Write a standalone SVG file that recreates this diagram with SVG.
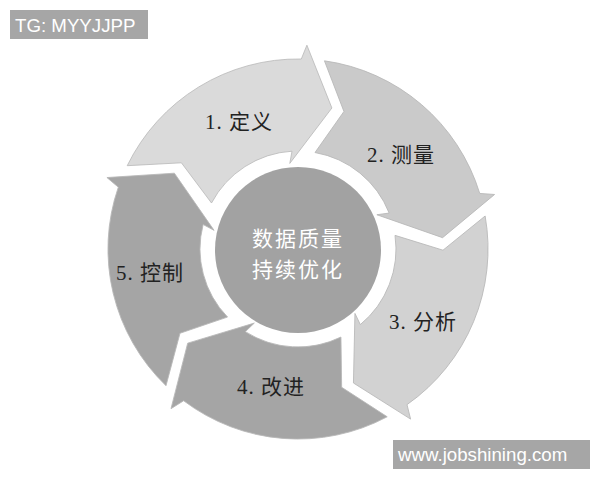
<svg xmlns="http://www.w3.org/2000/svg" width="600" height="480" viewBox="0 0 600 480">
<defs>
<style>
.seg{stroke:#b8b8b8;stroke-width:0.8;stroke-linejoin:miter}
.lbl{font-family:"Liberation Serif","Noto Sans CJK SC",serif;font-size:21px;fill:#222;text-anchor:middle;letter-spacing:1px}
.ctr{font-family:"Noto Sans CJK SC","Noto Sans",sans-serif;font-size:21px;fill:#fff;text-anchor:middle;letter-spacing:2px}
.wm{font-family:"Liberation Sans",Arial,sans-serif;font-size:18.7px;fill:#fff}
</style>
<path id="arrowSeg" d="M -170.8 -83.3 A 190 190 0 0 1 3.3 -190 L 8.9 -203.8 L 33.9 -141 L -8.2 -85.6 L -6 -97.8 A 98 98 0 0 0 -86.5 -46 L -116.6 -86.2 Z"/>
</defs>
<rect width="600" height="480" fill="#fff"/>
<g id="connectors"/>
<g id="step1">
<use href="#arrowSeg" class="seg" fill="#dadada" stroke="#9a9a9a" transform="translate(298,249) rotate(0)"/>
<text class="lbl" x="239" y="129">1. 定义</text>
</g>
<g id="step2">
<use href="#arrowSeg" class="seg" fill="#cacaca" transform="translate(298,249) rotate(72)"/>
<text class="lbl" x="401" y="162">2. 测量</text>
</g>
<g id="step3">
<use href="#arrowSeg" class="seg" fill="#d2d2d2" transform="translate(298,249) rotate(144)"/>
<text class="lbl" x="423" y="329">3. 分析</text>
</g>
<g id="step4">
<use href="#arrowSeg" class="seg" fill="#a5a5a5" transform="translate(298,249) rotate(216)"/>
<text class="lbl" x="271" y="394">4. 改进</text>
</g>
<g id="step5">
<use href="#arrowSeg" class="seg" fill="#a5a5a5" transform="translate(298,249) rotate(288)"/>
<text class="lbl" x="150" y="280">5. 控制</text>
</g>
<g id="center">
<circle cx="298" cy="250" r="83" fill="#a2a2a2"/>
<text class="ctr" x="298" y="246">数据质量</text>
<text class="ctr" x="298" y="277">持续优化</text>
</g>
<g id="watermark-top">
<rect x="10" y="10" width="138" height="29" fill="#a6a6a6"/>
<text class="wm" x="15" y="32">TG: MYYJJPP</text>
</g>
<g id="watermark-bottom">
<rect x="393" y="440" width="197" height="29" fill="#a6a6a6"/>
<text class="wm" x="398" y="461">www.jobshining.com</text>
</g>
</svg>
